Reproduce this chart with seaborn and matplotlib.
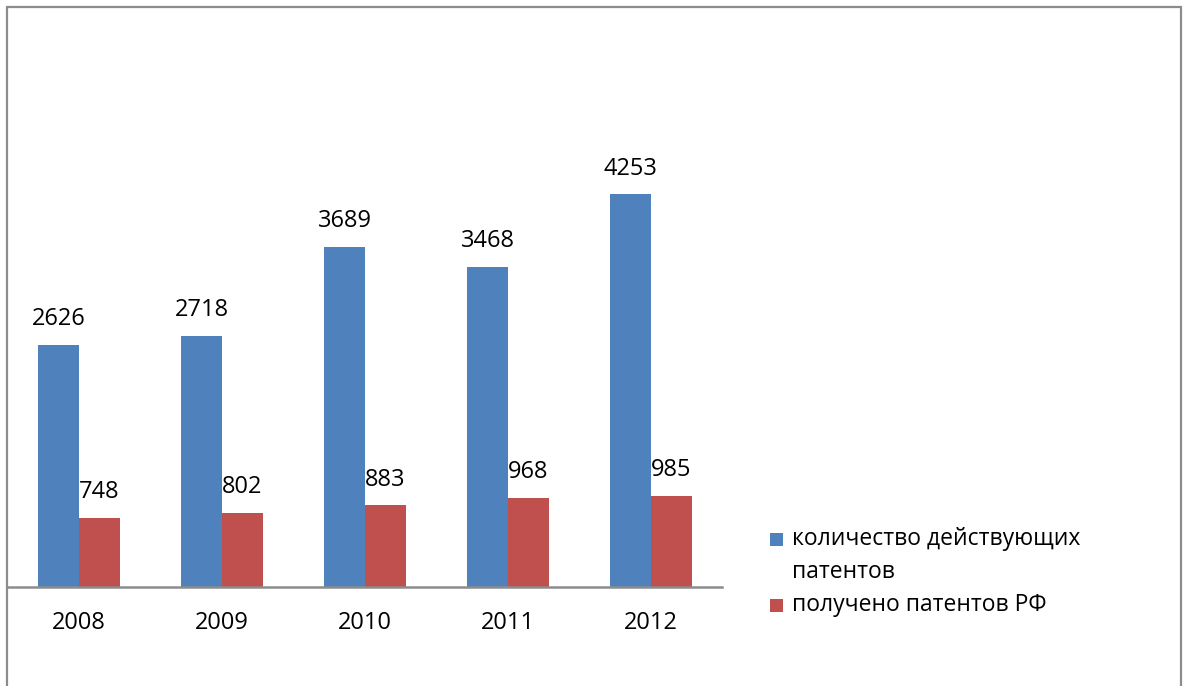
import matplotlib
matplotlib.use("Agg")
import matplotlib.pyplot as plt
from matplotlib.patches import Rectangle
import pandas as pd
import seaborn as sns

years = ["2008", "2009", "2010", "2011", "2012"]
active_patents = [2626, 2718, 3689, 3468, 4253]
granted_patents = [748, 802, 883, 968, 985]
series_names = ["количество действующих\nпатентов", "получено патентов РФ"]
series_colors = ["#4F81BD", "#C0504D"]

df = pd.DataFrame({
    "year": years * 2,
    "value": active_patents + granted_patents,
    "series": [series_names[0]] * len(years) + [series_names[1]] * len(years),
})

sns.set_theme(style="white")
plt.rcParams["font.family"] = ["Open Sans", "DejaVu Sans"]

W, H = 1184, 686
fig = plt.figure(figsize=(W / 100, H / 100), dpi=100)
fig.patch.set_facecolor("white")

# plot area in pixel terms: x 7.5..722.5, baseline at y=587
left, right, base = 7.5, 722.5, 587
ymax = 5000
px_per_unit = 0.0923
ax = fig.add_axes([left / W, (H - base) / H, (right - left) / W,
                   ymax * px_per_unit / H])

sns.barplot(data=df, x="year", y="value", hue="series", order=years,
            hue_order=series_names, palette=series_colors, width=0.574,
            saturation=1, legend=False, linewidth=0, ax=ax)

ax.set_ylim(0, ymax)
ax.set_xlim(-0.5, len(years) - 0.5)
ax.set_xlabel("")
ax.set_ylabel("")
ax.set_yticks([])
for side in ["left", "right", "top"]:
    ax.spines[side].set_visible(False)
ax.spines["bottom"].set_color("#8C8C8C")
ax.spines["bottom"].set_linewidth(1.8)
ax.tick_params(axis="x", length=0, pad=17, labelsize=17, colors="black")
ax.set_facecolor("none")

for cont in ax.containers:
    ax.bar_label(cont, fmt="%d", padding=10, fontsize=17, color="black")

# legend drawn in figure pixel coordinates
def fx(x):
    return x / W

def fy(y):
    return 1 - y / H

line_gap = 33
legend_rows = [(539, series_colors[0], series_names[0]),
               (605, series_colors[1], series_names[1])]
for yc, col, label in legend_rows:
    fig.patches.append(Rectangle((fx(770), fy(yc + 6.5)), 13 / W, 13 / H,
                                 transform=fig.transFigure, facecolor=col,
                                 edgecolor="none"))
    for i, line in enumerate(label.split("\n")):
        fig.text(fx(792), fy(yc + i * line_gap), line, fontsize=16.5,
                 va="center", ha="left", color="black")

# outer frame of the chart
fig.patches.append(Rectangle((fx(7), -0.05), (1181 - 7) / W, fy(7) + 0.05,
                             transform=fig.transFigure, facecolor="none",
                             edgecolor="#8C8C8C", linewidth=1.6))

fig.savefig("out.png", dpi=100, facecolor="white")
